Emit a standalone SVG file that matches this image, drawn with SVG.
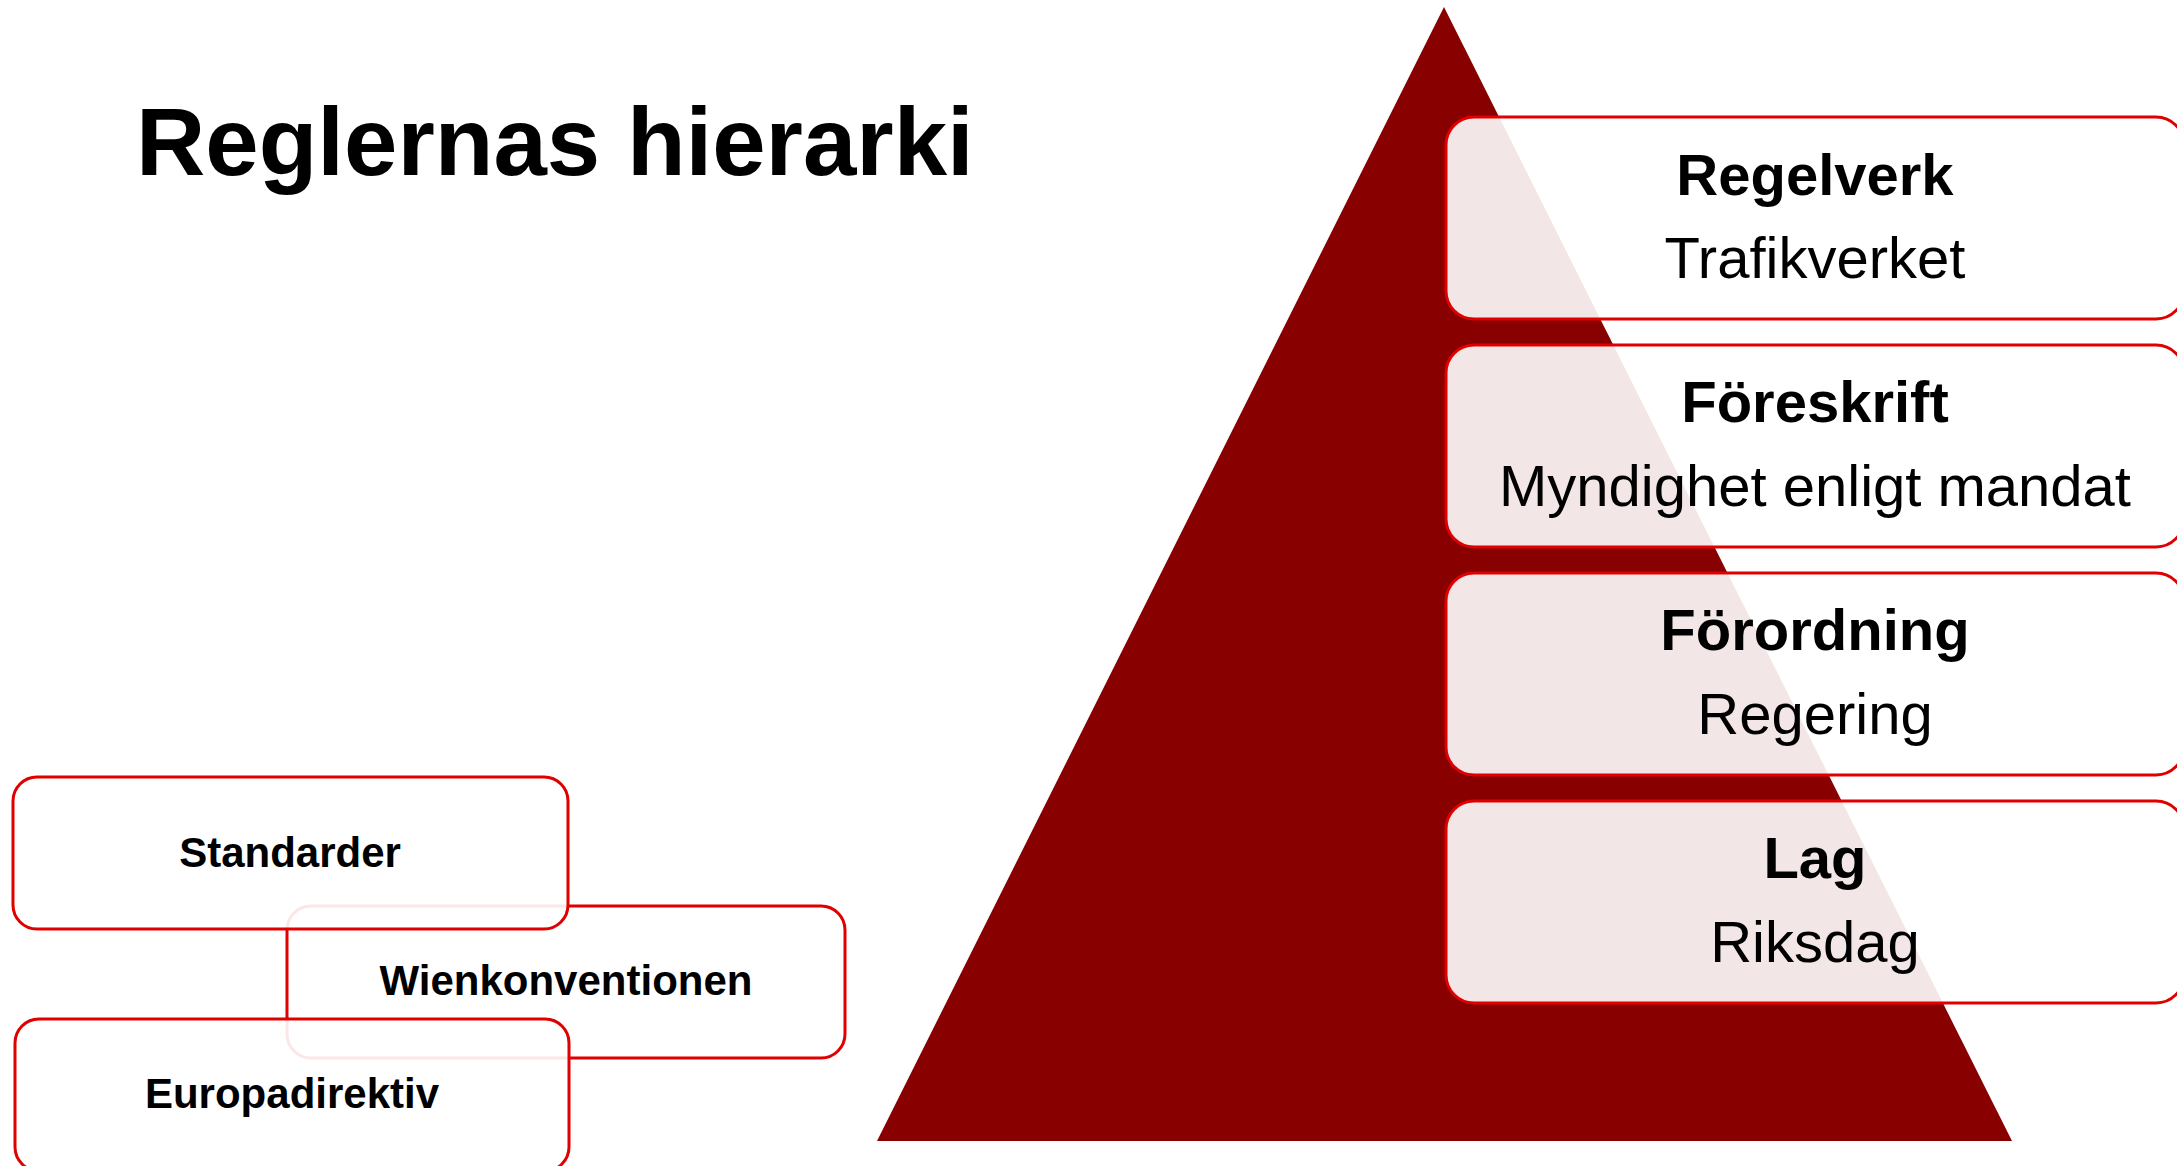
<svg xmlns="http://www.w3.org/2000/svg" width="2177" height="1166" viewBox="0 0 2177 1166">
  <style>
    .box { fill: #ffffff; fill-opacity: 0.9; stroke: #E00000; stroke-width: 3; }
    .t { font-family: "Liberation Sans", Arial, sans-serif; fill: #000000; text-anchor: middle; }
    .b { font-weight: bold; }
  </style>
  <rect width="2177" height="1166" fill="#ffffff"/>
  <g id="title">
    <text x="136" y="175" font-family="'Liberation Sans', Arial, sans-serif" font-weight="bold" font-size="96" fill="#000">Reglernas hierarki</text>
  </g>
  <g id="pyramid">
    <polygon points="1444,7 2012,1141 877,1141" fill="#880000"/>
  </g>
  <g id="node-regelverk">
    <rect class="box" x="1446" y="117" width="738" height="202" rx="28" ry="28"/>
    <text class="t b" x="1815" y="195" font-size="58">Regelverk</text>
    <text class="t" x="1815" y="278" font-size="58">Trafikverket</text>
  </g>
  <g id="node-foreskrift">
    <rect class="box" x="1446" y="345" width="738" height="202" rx="28" ry="28"/>
    <text class="t b" x="1815" y="422" font-size="58">Föreskrift</text>
    <text class="t" x="1815" y="506" font-size="58">Myndighet enligt mandat</text>
  </g>
  <g id="node-forordning">
    <rect class="box" x="1446" y="573" width="738" height="202" rx="28" ry="28"/>
    <text class="t b" x="1815" y="650" font-size="58">Förordning</text>
    <text class="t" x="1815" y="734" font-size="58">Regering</text>
  </g>
  <g id="node-lag">
    <rect class="box" x="1446" y="801" width="738" height="202" rx="28" ry="28"/>
    <text class="t b" x="1815" y="878" font-size="58">Lag</text>
    <text class="t" x="1815" y="962" font-size="58">Riksdag</text>
  </g>
  <g id="node-wienkonventionen">
    <rect class="box" x="287" y="906" width="558" height="152" rx="24" ry="24"/>
    <text class="t b" x="566" y="995" font-size="42">Wienkonventionen</text>
  </g>
  <g id="node-standarder">
    <rect class="box" x="13" y="777" width="555" height="152" rx="24" ry="24"/>
    <text class="t b" x="290" y="867" font-size="42">Standarder</text>
  </g>
  <g id="node-europadirektiv">
    <rect class="box" x="15" y="1019" width="554" height="152" rx="24" ry="24"/>
    <text class="t b" x="292" y="1108" font-size="42">Europadirektiv</text>
  </g>
  <g id="connectors"></g>
</svg>
